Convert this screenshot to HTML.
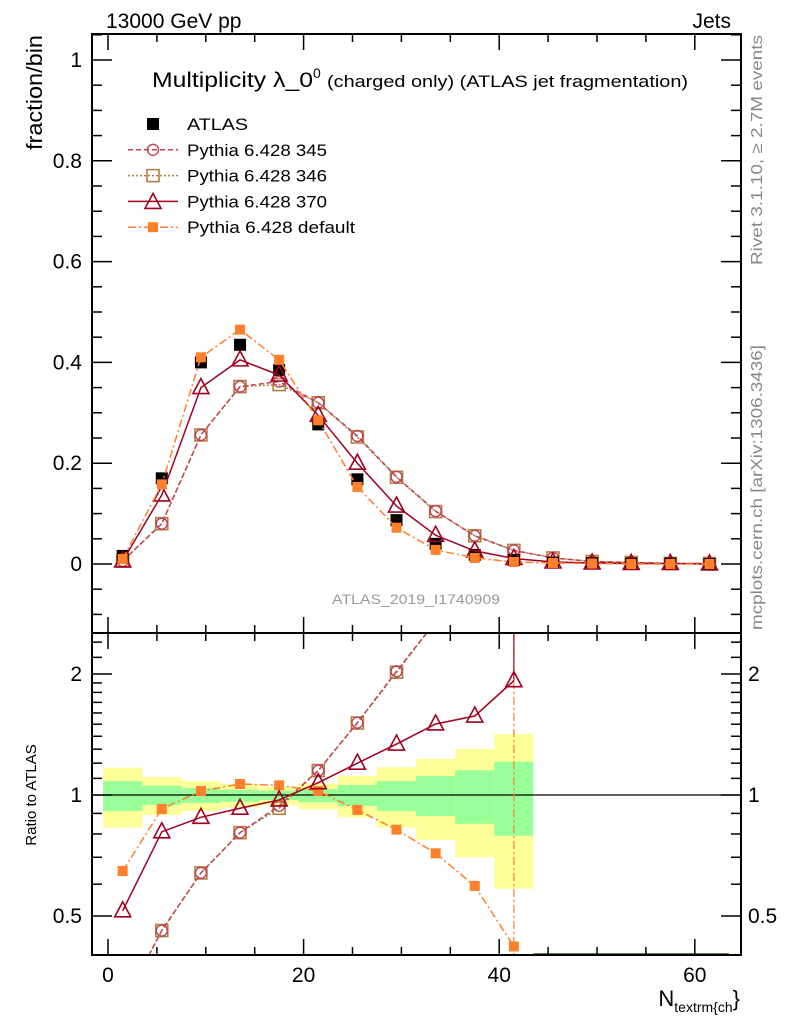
<!DOCTYPE html>
<html><head><meta charset="utf-8"><style>
html,body{margin:0;padding:0;background:#fff;}
svg{display:block;font-family:"Liberation Sans",Arial,sans-serif;}
</style></head><body>
<svg id="c" width="786" height="1024" viewBox="0 0 786 1024" xmlns="http://www.w3.org/2000/svg">
<text x="106" y="28" font-size="21">13000 GeV pp</text>
<text x="731" y="28" font-size="21" text-anchor="end">Jets</text>
<text x="152" y="87" font-size="21"><tspan textLength="161" lengthAdjust="spacingAndGlyphs">Multiplicity λ_0</tspan><tspan dy="-9" font-size="14">0</tspan><tspan dy="9" font-size="17" x="327" textLength="361" lengthAdjust="spacingAndGlyphs">(charged only) (ATLAS jet fragmentation)</tspan></text>
<text transform="translate(42,35) rotate(-90)" font-size="22" text-anchor="end" textLength="115" lengthAdjust="spacingAndGlyphs">fraction/bin</text>
<text transform="translate(36,795) rotate(-90)" font-size="15" text-anchor="middle">Ratio to ATLAS</text>
<text transform="translate(762,35) rotate(-90)" font-size="16" fill="#888" text-anchor="end" textLength="230" lengthAdjust="spacingAndGlyphs">Rivet 3.1.10, ≥ 2.7M events</text>
<text transform="translate(762,345) rotate(-90)" font-size="16" fill="#888" text-anchor="end" textLength="285" lengthAdjust="spacingAndGlyphs">mcplots.cern.ch [arXiv:1306.3436]</text>
<text x="332" y="604" font-size="14" fill="#999" textLength="168" lengthAdjust="spacingAndGlyphs">ATLAS_2019_I1740909</text>
<text x="740" y="1006" font-size="22" text-anchor="end">N<tspan font-size="14" dy="6">textrm{ch</tspan><tspan dy="-6">}</tspan></text>
<g id="ratio"></g><g id="main"></g><g id="frames"></g><g id="legend"></g>
</svg>
<script>
const xBins = [1.5,5.5,9.5,13.5,17.5,21.5,25.5,29.5,33.5,37.5,41.5,45.5,49.5,53.5,57.5,61.5];
const atlas = [0.016,0.17,0.40,0.435,0.385,0.277,0.168,0.087,0.040,0.018,0.008,0.003,0.002,0.001,0.001,0.0];
const p345 = [0.006,0.080,0.256,0.352,0.362,0.320,0.254,0.173,0.105,0.056,0.027,0.012,0.005,0.003,0.001,0.001];
const p346 = [0.006,0.080,0.256,0.352,0.356,0.320,0.252,0.172,0.104,0.056,0.027,0.012,0.005,0.003,0.001,0.001];
const p370 = [0.006,0.137,0.350,0.405,0.375,0.295,0.200,0.115,0.057,0.026,0.011,0.004,0.002,0.001,0.001,0.0];
const pDef = [0.010,0.158,0.410,0.465,0.405,0.285,0.153,0.072,0.028,0.012,0.004,0.002,0.001,0.0,0.0,0.0];
const rBins = [1.5,5.5,9.5,13.5,17.5,21.5,25.5,29.5,33.5,37.5,41.5];
const r345 = [0.30,0.46,0.64,0.806,0.94,1.15,1.513,2.03,2.7,3.1,3.4];
const r346 = [0.30,0.46,0.64,0.806,0.927,1.15,1.51,2.02,2.7,3.1,3.4];
const r370 = [0.515,0.81,0.88,0.927,0.972,1.073,1.2,1.339,1.502,1.572,1.925];
const rDef = [0.647,0.923,1.023,1.065,1.057,1.023,0.918,0.82,0.716,0.594,0.42];
const bandYHi = [1.17,1.109,1.083,1.065,1.048,1.069,1.117,1.172,1.229,1.302,1.418];
const bandYLo = [0.83,0.892,0.912,0.93,0.944,0.921,0.88,0.83,0.773,0.70,0.585];
const bandGHi = [1.083,1.055,1.04,1.03,1.025,1.035,1.059,1.083,1.115,1.152,1.21];
const bandGLo = [0.912,0.944,0.955,0.962,0.972,0.959,0.939,0.912,0.887,0.848,0.792];
const xTicks = [0,20,40,60];
const yTicks = [0,0.2,0.4,0.6,0.8,1];
const yTickLabels = ["0","0.2","0.4","0.6","0.8","1"];
const rTicks = [0.5,1,2];
const rTickLabels = ["0.5","1","2"];

const NS="http://www.w3.org/2000/svg";
const L=92,R=741,T=34,M=633,B=955;
const X=v=>108+v*9.78;
const Y=v=>564-v*504;
const RY=r=>795-402*Math.log10(r);
function mk(tag,parent,attrs){const e=document.createElementNS(NS,tag);for(const k in attrs)e.setAttribute(k,attrs[k]);parent.appendChild(e);return e;}
const main=document.getElementById('main'),ratio=document.getElementById('ratio'),fr=document.getElementById('frames'),leg=document.getElementById('legend');

for(let i=0;i<bandYHi.length;i++){
  const x0=X(rBins[i]-2),x1=X(rBins[i]+2);
  let e=mk('rect',ratio,{x:x0,y:RY(bandYHi[i]),width:x1-x0,height:RY(bandYLo[i])-RY(bandYHi[i]),fill:'#ffff99'});
  
  
  e=mk('rect',ratio,{x:x0,y:RY(bandGHi[i]),width:x1-x0,height:RY(bandGLo[i])-RY(bandGHi[i]),fill:'#99ff99'});
  
  
}
let ln=mk('line',ratio,{x1:L,x2:R,y1:RY(1),y2:RY(1),stroke:'#000','stroke-width':1.3});


ln=mk('line',ratio,{x1:X(43.5),x2:X(63.5),y1:B-1,y2:B-1,stroke:'#2f5a1f','stroke-width':1.5});



function marker(g,type,x,y,col,name){
  let e;
  if(type==='sq') e=mk('rect',g,{x:x-6,y:y-6,width:12,height:12,fill:'#000'});
  else if(type==='fsq') e=mk('rect',g,{x:x-5,y:y-5,width:10,height:10,fill:col});
  else if(type==='osq') e=mk('rect',g,{x:x-6,y:y-6,width:12,height:12,fill:'none',stroke:col,'stroke-width':1.6});
  else if(type==='circ') e=mk('circle',g,{cx:x,cy:y,r:5.5,fill:'none',stroke:col,'stroke-width':1.4});
  else if(type==='tri') e=mk('path',g,{d:`M${x},${y-9}L${x+8},${y+6}L${x-8},${y+6}Z`,fill:'none',stroke:col,'stroke-width':1.6});
  
  
}
function series(g,xs,vals,yf,col,dash,type,name,clipTop,clipBot){
  let d='';
  xs.forEach((x,i)=>{d+=(i?'L':'M')+X(x)+','+yf(vals[i]);});
  const p=mk('path',g,{d:d,fill:'none',stroke:col,'stroke-width':1.5,'stroke-dasharray':dash,'clip-path':g===ratio?'url(#clipR)':'url(#clipM)'});
  
  
  xs.forEach((x,i)=>{const y=yf(vals[i]); if(y<clipTop||y>clipBot)return; marker(g,type,X(x),y,col,name+'-marker');});
}
const defs=mk('defs',document.getElementById('c'),{});
const c1=mk('clipPath',defs,{id:'clipM'});mk('rect',c1,{x:L,y:T,width:R-L,height:M-T});
const c2=mk('clipPath',defs,{id:'clipR'});mk('rect',c2,{x:L,y:M,width:R-L,height:B-M});

ln=mk('line',ratio,{x1:X(41.5),x2:X(41.5),y1:M,y2:B,stroke:'#ff7f2a','stroke-width':1.2,'stroke-dasharray':'8 3 2 3'});


ln=mk('line',ratio,{x1:X(41.5),x2:X(41.5),y1:M,y2:RY(1.925),stroke:'#a00020','stroke-width':1.2});


series(ratio,rBins,r346,RY,'#b08040','2 2','osq','ratio-346',M,B);
series(ratio,rBins,r345,RY,'#c04050','5 3','circ','ratio-345',M,B);
series(ratio,rBins,rDef,RY,'#ff7f2a','8 3 2 3','fsq','ratio-default',M,B);
series(ratio,rBins,r370,RY,'#a00020','','tri','ratio-370',M,B);

series(main,xBins,p346,Y,'#b08040','2 2','osq','pythia-346',T,M);
series(main,xBins,p345,Y,'#c04050','5 3','circ','pythia-345',T,M);
xBins.forEach((x,i)=>marker(main,'sq',X(x),Y(atlas[i]),'#000','atlas-data-point'));
series(main,xBins,p370,Y,'#a00020','','tri','pythia-370',T,M);
series(main,xBins,pDef,Y,'#ff7f2a','8 3 2 3','fsq','pythia-default',T,M);

[[T,M,'main-frame'],[M,B,'ratio-frame']].forEach(([a,b,n])=>{
  const e=mk('rect',fr,{x:L,y:a,width:R-L,height:b-a,fill:'none',stroke:'#000','stroke-width':2});
  
  
});
for(let v=0;v<=64;v+=5){
  const maj=v%20===0, len=maj?16:8, x=X(v);
  [[T,1],[M,-1],[M,1],[B,-1]].forEach(([y,s])=>{mk('line',fr,{x1:x,x2:x,y1:y,y2:y+s*len,stroke:'#000','stroke-width':1.5});});
}
xTicks.forEach(v=>{const t=mk('text',fr,{x:X(v),y:982,'font-size':21,'text-anchor':'middle'});t.textContent=v;
  
  });
for(let k=-2;k<=21;k++){
  const v=k*0.05, y=Y(v); if(y<T||y>M)continue;
  const len=(k%4===0)?20:10;
  mk('line',fr,{x1:L,x2:L+len,y1:y,y2:y,stroke:'#000','stroke-width':1.5});
  mk('line',fr,{x1:R,x2:R-len,y1:y,y2:y,stroke:'#000','stroke-width':1.5});
}
yTicks.forEach((v,i)=>{const t=mk('text',fr,{x:82,y:Y(v)+7,'font-size':21,'text-anchor':'end'});t.textContent=yTickLabels[i];
  
  });
const minorR=[0.4,0.6,0.7,0.8,0.9,1.1,1.2,1.3,1.4,1.5,1.6,1.7,1.8,1.9,2.2,2.4];
minorR.forEach(r=>{const y=RY(r);mk('line',fr,{x1:L,x2:L+10,y1:y,y2:y,stroke:'#000','stroke-width':1.5});mk('line',fr,{x1:R,x2:R-10,y1:y,y2:y,stroke:'#000','stroke-width':1.5});});
rTicks.forEach((r,i)=>{const y=RY(r);
  mk('line',fr,{x1:L,x2:L+20,y1:y,y2:y,stroke:'#000','stroke-width':1.5});mk('line',fr,{x1:R,x2:R-20,y1:y,y2:y,stroke:'#000','stroke-width':1.5});
  let t=mk('text',fr,{x:82,y:y+7,'font-size':21,'text-anchor':'end'});t.textContent=rTickLabels[i];
  
  
  t=mk('text',fr,{x:748,y:y+7,'font-size':21});t.textContent=rTickLabels[i];
  
  
});
const legNames=['ATLAS','Pythia 6.428 345','Pythia 6.428 346','Pythia 6.428 370','Pythia 6.428 default'];
const legCols=['#000','#c04050','#b08040','#a00020','#ff7f2a'];
const legDash=['','5 3','2 2','','8 3 2 3'];
const legType=['sq','circ','osq','tri','fsq'];
const legW=[61,140,140,140,168];
legNames.forEach((n,i)=>{
  const y=124+i*25.8;
  if(i>0){const l=mk('line',leg,{x1:128,x2:178,y1:y,y2:y,stroke:legCols[i],'stroke-width':1.5,'stroke-dasharray':legDash[i]});
    
    }
  marker(leg,legType[i],153,y+(i===3?1:0),legCols[i],'legend-marker');
  const t=mk('text',leg,{x:187,y:y+6,'font-size':17,textLength:legW[i],lengthAdjust:'spacingAndGlyphs'});t.textContent=n;
  
  
});
</script>
</body></html>
